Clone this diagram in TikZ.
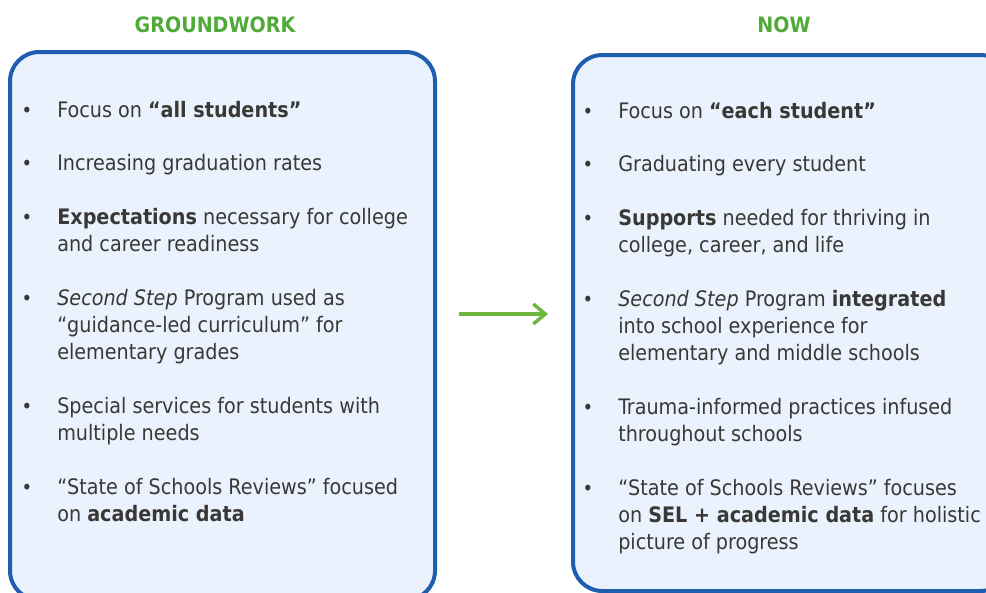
\documentclass[tikz,border=0pt]{standalone}
\usepackage{fontspec}
\setmainfont{DejaVu Sans Condensed}
\usetikzlibrary{arrows.meta}
\definecolor{hdrgreen}{HTML}{4FAA37}
\definecolor{arrgreen}{HTML}{6DB83F}
\definecolor{boxblue}{HTML}{1F5EAE}
\definecolor{boxfill}{HTML}{EAF2FD}
\definecolor{txt}{HTML}{3A3836}
\tikzset{
  panel/.style={draw=boxblue, fill=boxfill, line width=3pt, rounded corners=22pt},
  hdr/.style={text=hdrgreen, font=\fontsize{15.9}{18}\selectfont\bfseries, anchor=base},
  item/.style={text=txt, font=\fontsize{16}{20.25}\selectfont, anchor=base west, align=left, inner sep=0pt},
  bul/.style={text=txt, font=\fontsize{15}{20.25}\selectfont, anchor=base, inner sep=0pt},
}
\begin{document}
\begin{tikzpicture}[x=0.75pt,y=-0.75pt]
\useasboundingbox (0,0) rectangle (986,593);
\clip (0,0) rectangle (986,593);
\fill[white] (0,0) rectangle (986,593);
\draw[panel] (10,52) rectangle (435,600);
\draw[panel] (573,55) rectangle (1010,591);
\node[hdr] (h1) at (215,32) {GROUNDWORK};
\node[hdr] (h2) at (784,32) {NOW};
% left items (anchor = baseline of last line)
\node[bul] (lb1) at (27,117) {•};
\node[item] (l1) at (57,117) {Focus on \textbf{“all students”}};
\node[bul] (lb2) at (27,170) {•};
\node[item] (l2) at (57,170) {Increasing graduation rates};
\node[bul] (lb3) at (27,224) {•};
\node[item] (l3) at (57,251) {\textbf{Expectations} necessary for college\\and career readiness};
\node[bul] (lb4) at (27,305) {•};
\node[item] (l4) at (57,359) {\textit{Second Step} Program used as\\“guidance-led curriculum” for\\elementary grades};
\node[bul] (lb5) at (27,413) {•};
\node[item] (l5) at (57,440) {Special services for students with\\multiple needs};
\node[bul] (lb6) at (27,494) {•};
\node[item] (l6) at (57,521) {“State of Schools Reviews” focused\\on \textbf{academic data}};
% right items
\node[bul] (rb1) at (588,118) {•};
\node[item] (r1) at (618,118) {Focus on \textbf{“each student”}};
\node[bul] (rb2) at (588,171) {•};
\node[item] (r2) at (618,171) {Graduating every student};
\node[bul] (rb3) at (588,225) {•};
\node[item] (r3) at (618,252) {\textbf{Supports} needed for thriving in\\college, career, and life};
\node[bul] (rb4) at (588,306) {•};
\node[item] (r4) at (618,360) {\textit{Second Step} Program \textbf{integrated}\\into school experience for\\elementary and middle schools};
\node[bul] (rb5) at (588,414) {•};
\node[item] (r5) at (618,441) {Trauma-informed practices infused\\throughout schools};
\node[bul] (rb6) at (588,495) {•};
\node[item] (r6) at (618,549) {“State of Schools Reviews” focuses\\on \textbf{SEL + academic data} for holistic\\picture of progress};
% arrow
\coordinate (as) at (459,314);
\coordinate (ae) at (548,314);
\draw[arrgreen, line width=2.6pt, -{Straight Barb[length=9pt,width=15pt,line width=2.6pt]}] (as) -- (ae);
\end{tikzpicture}
\end{document}
